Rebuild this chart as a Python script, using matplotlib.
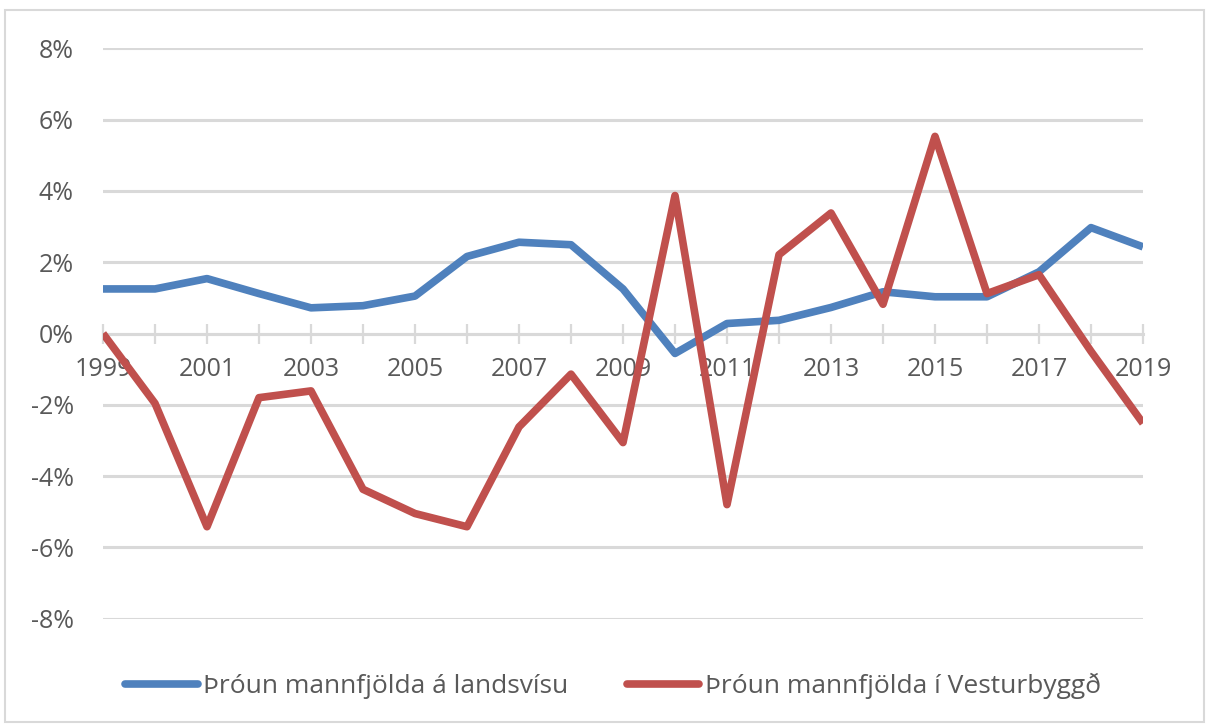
import matplotlib
matplotlib.use("Agg")
import matplotlib.pyplot as plt
from matplotlib.patches import Rectangle

years = list(range(1999, 2020))
landsvisu = [1.25, 1.25, 1.54, 1.12, 0.72, 0.78, 1.05, 2.16, 2.56, 2.49, 1.25,
             -0.56, 0.28, 0.37, 0.73, 1.17, 1.03, 1.03, 1.73, 2.97, 2.43]
vesturbyggd = [0.0, -1.96, -5.42, -1.8, -1.61, -4.37, -5.05, -5.42, -2.62, -1.14, -3.06,
               3.87, -4.8, 2.21, 3.38, 0.82, 5.53, 1.12, 1.65, -0.5, -2.52]
label_land = "Þróun mannfjölda á landsvísu"
label_vest = "Þróun mannfjölda í Vesturbyggð"
yticks = [-8, -6, -4, -2, 0, 2, 4, 6, 8]

BLUE = "#4F81BD"
RED = "#C0504D"
GRID = "#D9D9D9"
TXT = "#595959"

plt.rcParams['font.family'] = ['Open Sans', 'DejaVu Sans']

fig = plt.figure(figsize=(12.07, 7.27), dpi=100)
ax = fig.add_axes([103/1207, 1-618.7/727, (1143-103)/1207, (618.7-48.3)/727])

ax.plot(years, landsvisu, color=BLUE, lw=5.5, solid_joinstyle='round', solid_capstyle='butt', label=label_land, zorder=3)
ax.plot(years, vesturbyggd, color=RED, lw=5.5, solid_joinstyle='round', solid_capstyle='butt', label=label_vest, zorder=4)

ax.set_xlim(1999, 2019)
ax.set_ylim(-8, 8)
ax.set_yticks(yticks)
ax.set_yticklabels([f"{v}%" for v in yticks])
ax.yaxis.grid(True, color=GRID, lw=2.2)
ax.set_axisbelow(True)
ax.tick_params(axis='y', length=0, pad=21, labelsize=18, labelcolor=TXT)

ax.set_xticks(years)
ax.set_xticklabels([str(y) if (y - 1999) % 2 == 0 else "" for y in years])
ax.tick_params(axis='x', direction='inout', length=14.5, width=1.6, color=GRID,
               pad=10, labelsize=18, labelcolor=TXT)

for s in ['top', 'right', 'left']:
    ax.spines[s].set_visible(False)
ax.spines['bottom'].set_position(('data', 0))
ax.spines['bottom'].set_color(GRID)
ax.spines['bottom'].set_linewidth(2.2)
ax.spines['bottom'].set_zorder(1)

leg = fig.legend(loc='center', bbox_to_anchor=(613/1207, 1-686/727), ncol=2, frameon=False,
                 fontsize=19, handlelength=2.75, handletextpad=0.22, columnspacing=2.2,
                 labelcolor=TXT)
for h in leg.legend_handles:
    h.set_solid_capstyle('round')

fig.add_artist(Rectangle((5/1207, 1-722/727), 1199/1207, 712/727, transform=fig.transFigure,
                         fill=False, edgecolor=GRID, lw=1.5))

fig.savefig("out.png", dpi=100)
